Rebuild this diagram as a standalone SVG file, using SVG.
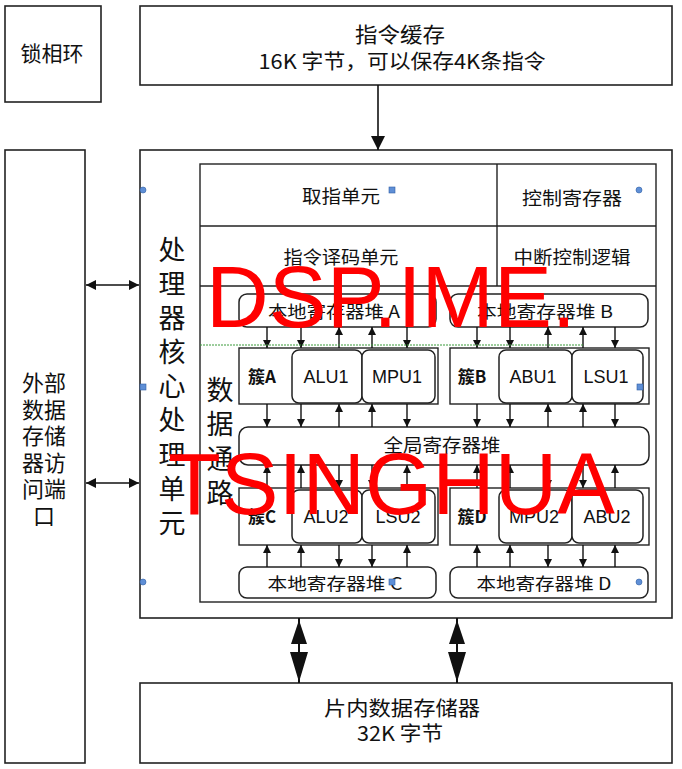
<svg xmlns="http://www.w3.org/2000/svg" width="682" height="769" viewBox="0 0 682 769">
<style>
.box{fill:#fff;stroke:#222;stroke-width:1.6}
.thin{fill:none;stroke:#222;stroke-width:1.4}
.rr{fill:#fff;stroke:#222;stroke-width:1.5}
.cjk{font-family:"Noto Sans CJK SC","Noto Sans",sans-serif;fill:#111;text-anchor:middle}
.lat{font-family:"Liberation Sans",Arial,sans-serif;fill:#111;text-anchor:middle}
.ar{stroke:#111;stroke-width:1.4;fill:none;marker-end:url(#a)}
.wm{font-family:"Liberation Sans",Arial,sans-serif;fill:#ff0000;font-size:87px}
.hc{fill:#5f8fd6;stroke:#2f5fa6;stroke-width:0.6}
</style>
<defs>
<marker id="a" viewBox="0 0 10 10" refX="10" refY="5" markerUnits="userSpaceOnUse" markerWidth="9" markerHeight="8" orient="auto"><path d="M0,0 L10,5 L0,10 z" fill="#111"/></marker>
<marker id="big" viewBox="0 0 10 10" refX="10" refY="5" markerUnits="userSpaceOnUse" markerWidth="16" markerHeight="14" orient="auto"><path d="M0,0 L10,5 L0,10 z" fill="#111"/></marker>
<marker id="mid" viewBox="0 0 10 10" refX="10" refY="5" markerUnits="userSpaceOnUse" markerWidth="12" markerHeight="10" orient="auto-start-reverse"><path d="M0,0 L10,5 L0,10 z" fill="#111"/></marker>
</defs>

<g id="pll">
<rect class="box" x="5" y="6" width="96" height="96"/>
<text class="cjk" x="52" y="61" font-size="21">锁相环</text>
</g>

<g id="icache">
<rect class="box" x="140" y="6" width="532" height="79"/>
<text class="cjk" x="400" y="42" font-size="21" textLength="90" lengthAdjust="spacingAndGlyphs">指令缓存</text>
<text class="cjk" x="402" y="69" font-size="20" textLength="287" lengthAdjust="spacingAndGlyphs">16K 字节，可以保存4K条指令</text>
</g>

<g id="extport">
<rect class="box" x="5" y="150" width="80" height="613"/>
<g class="cjk" font-size="22">
<text x="44" y="391">外部</text>
<text x="44" y="418">数据</text>
<text x="44" y="444">存储</text>
<text x="44" y="471">器访</text>
<text x="44" y="497">问端</text>
<text x="44" y="524">口</text>
</g>
</g>

<g id="core">
<rect class="box" x="140" y="150" width="532" height="468"/>
<g class="cjk" font-size="27">
<text x="172" y="260">处</text>
<text x="172" y="294">理</text>
<text x="172" y="328">器</text>
<text x="172" y="362">核</text>
<text x="172" y="396">心</text>
<text x="172" y="430">处</text>
<text x="172" y="465">理</text>
<text x="172" y="499">单</text>
<text x="172" y="533">元</text>
</g>
</g>

<g id="inner">
<rect class="thin" x="200" y="164" width="456" height="438"/>
<line class="thin" x1="200" y1="226" x2="656" y2="226"/>
<line class="thin" x1="200" y1="286" x2="656" y2="286"/>
<line class="thin" x1="497" y1="164" x2="497" y2="286"/>
<g class="cjk" font-size="18">
<text x="341" y="203" textLength="78" lengthAdjust="spacingAndGlyphs">取指单元</text>
<text x="572" y="205" textLength="100" lengthAdjust="spacingAndGlyphs">控制寄存器</text>
<text x="341" y="264" textLength="115" lengthAdjust="spacingAndGlyphs">指令译码单元</text>
<text x="572" y="264" textLength="117" lengthAdjust="spacingAndGlyphs">中断控制逻辑</text>
</g>
<g class="cjk" font-size="27">
<text x="220" y="400">数</text>
<text x="220" y="434">据</text>
<text x="220" y="469">通</text>
<text x="220" y="503">路</text>
</g>
</g>

<g id="lrfA">
<rect class="rr" x="239" y="294" width="197" height="33" rx="8"/>
<text class="cjk" x="334" y="318" font-size="17" textLength="132" lengthAdjust="spacingAndGlyphs">本地寄存器堆 A</text>
</g>
<g id="lrfB">
<rect class="rr" x="450" y="294" width="198" height="33" rx="8"/>
<text class="cjk" x="545" y="318" font-size="17" textLength="136" lengthAdjust="spacingAndGlyphs">本地寄存器堆 B</text>
</g>

<g id="clusterA">
<rect class="thin" x="239" y="348" width="199" height="56"/>
<text class="cjk" x="262" y="383" font-size="17" font-weight="bold">簇A</text>
<rect class="rr" x="292" y="350" width="70" height="53" rx="7"/>
<text class="lat" x="326" y="383" font-size="18">ALU1</text>
<rect class="rr" x="362" y="350" width="73" height="53" rx="7"/>
<text class="lat" x="397" y="383" font-size="18">MPU1</text>
</g>
<g id="clusterB">
<rect class="thin" x="450" y="348" width="199" height="56"/>
<text class="cjk" x="472" y="383" font-size="17" font-weight="bold">簇B</text>
<rect class="rr" x="499" y="350" width="73" height="53" rx="7"/>
<text class="lat" x="533" y="383" font-size="18">ABU1</text>
<rect class="rr" x="572" y="350" width="71" height="53" rx="7"/>
<text class="lat" x="606" y="383" font-size="18">LSU1</text>
</g>

<g id="grf">
<rect class="rr" x="239" y="427" width="410" height="38" rx="9"/>
<text class="cjk" x="442" y="452" font-size="18" textLength="117" lengthAdjust="spacingAndGlyphs">全局寄存器堆</text>
</g>

<g id="clusterC">
<rect class="thin" x="239" y="488" width="199" height="57"/>
<text class="cjk" x="262" y="523" font-size="17" font-weight="bold">簇C</text>
<rect class="rr" x="292" y="490" width="70" height="53" rx="7"/>
<text class="lat" x="326" y="523" font-size="18">ALU2</text>
<rect class="rr" x="362" y="490" width="73" height="53" rx="7"/>
<text class="lat" x="398" y="523" font-size="18">LSU2</text>
</g>
<g id="clusterD">
<rect class="thin" x="450" y="488" width="199" height="57"/>
<text class="cjk" x="472" y="523" font-size="17" font-weight="bold">簇D</text>
<rect class="rr" x="499" y="490" width="73" height="53" rx="7"/>
<text class="lat" x="534" y="523" font-size="18">MPU2</text>
<rect class="rr" x="572" y="490" width="71" height="53" rx="7"/>
<text class="lat" x="607" y="523" font-size="18">ABU2</text>
</g>

<g id="lrfC">
<rect class="rr" x="239" y="567" width="197" height="31" rx="8"/>
<text class="cjk" x="335" y="590" font-size="17" textLength="135" lengthAdjust="spacingAndGlyphs">本地寄存器堆 C</text>
</g>
<g id="lrfD">
<rect class="rr" x="450" y="567" width="198" height="31" rx="8"/>
<text class="cjk" x="544" y="590" font-size="17" textLength="135" lengthAdjust="spacingAndGlyphs">本地寄存器堆 D</text>
</g>

<g id="dmem">
<rect class="box" x="140" y="683" width="532" height="80"/>
<text class="cjk" x="402" y="716" font-size="20" textLength="156" lengthAdjust="spacingAndGlyphs">片内数据存储器</text>
<text class="cjk" x="400" y="741" font-size="20" textLength="86" lengthAdjust="spacingAndGlyphs">32K 字节</text>
</g>

<g id="connectors">
<line x1="378" y1="85" x2="378" y2="150" stroke="#111" stroke-width="1.6" marker-end="url(#big)"/>
<line x1="86" y1="285" x2="139" y2="285" stroke="#111" stroke-width="1.6" marker-start="url(#mid)" marker-end="url(#mid)"/>
<line x1="86" y1="483" x2="139" y2="483" stroke="#111" stroke-width="1.6" marker-start="url(#mid)" marker-end="url(#mid)"/>
<!-- local A/B to clusters -->
<line class="ar" x1="267" y1="327" x2="267" y2="348"/>
<line class="ar" x1="301" y1="327" x2="301" y2="348"/>
<line class="ar" x1="339" y1="348" x2="339" y2="327"/>
<line class="ar" x1="372" y1="348" x2="372" y2="327"/>
<line class="ar" x1="407" y1="327" x2="407" y2="348"/>
<line class="ar" x1="477" y1="327" x2="477" y2="348"/>
<line class="ar" x1="510" y1="327" x2="510" y2="348"/>
<line class="ar" x1="548" y1="348" x2="548" y2="327"/>
<line class="ar" x1="583" y1="348" x2="583" y2="327"/>
<line class="ar" x1="615" y1="327" x2="615" y2="348"/>
<!-- clusters A/B to global -->
<line class="ar" x1="267" y1="404" x2="267" y2="427"/>
<line class="ar" x1="301" y1="404" x2="301" y2="427"/>
<line class="ar" x1="339" y1="427" x2="339" y2="404"/>
<line class="ar" x1="372" y1="427" x2="372" y2="404"/>
<line class="ar" x1="407" y1="404" x2="407" y2="427"/>
<line class="ar" x1="477" y1="404" x2="477" y2="427"/>
<line class="ar" x1="510" y1="404" x2="510" y2="427"/>
<line class="ar" x1="548" y1="427" x2="548" y2="404"/>
<line class="ar" x1="583" y1="427" x2="583" y2="404"/>
<line class="ar" x1="615" y1="404" x2="615" y2="427"/>
<!-- global to clusters C/D -->
<line class="ar" x1="267" y1="488" x2="267" y2="465"/>
<line class="ar" x1="301" y1="488" x2="301" y2="465"/>
<line class="ar" x1="339" y1="465" x2="339" y2="488"/>
<line class="ar" x1="372" y1="465" x2="372" y2="488"/>
<line class="ar" x1="407" y1="488" x2="407" y2="465"/>
<line class="ar" x1="477" y1="488" x2="477" y2="465"/>
<line class="ar" x1="510" y1="488" x2="510" y2="465"/>
<line class="ar" x1="548" y1="465" x2="548" y2="488"/>
<line class="ar" x1="583" y1="465" x2="583" y2="488"/>
<line class="ar" x1="615" y1="488" x2="615" y2="465"/>
<!-- clusters C/D to local C/D -->
<line class="ar" x1="267" y1="567" x2="267" y2="545"/>
<line class="ar" x1="301" y1="567" x2="301" y2="545"/>
<line class="ar" x1="339" y1="545" x2="339" y2="567"/>
<line class="ar" x1="372" y1="545" x2="372" y2="567"/>
<line class="ar" x1="407" y1="567" x2="407" y2="545"/>
<line class="ar" x1="477" y1="567" x2="477" y2="545"/>
<line class="ar" x1="510" y1="567" x2="510" y2="545"/>
<line class="ar" x1="548" y1="545" x2="548" y2="567"/>
<line class="ar" x1="583" y1="545" x2="583" y2="567"/>
<line class="ar" x1="615" y1="567" x2="615" y2="545"/>
<!-- core to data memory -->
<line x1="299" y1="618" x2="299" y2="683" stroke="#111" stroke-width="2"/>
<path d="M299,620 L291,644 L307,644 z M299,682 L290,652 L308,652 z" fill="#111"/>
<line x1="457" y1="618" x2="457" y2="683" stroke="#111" stroke-width="2"/>
<path d="M457,620 L449,644 L465,644 z M457,682 L448,652 L466,652 z" fill="#111"/>
</g>

<line x1="200" y1="345" x2="583" y2="345" stroke="#3a9a3a" stroke-width="1" stroke-dasharray="2,1"/>

<g id="handles">
<circle class="hc" cx="143" cy="190" r="3"/>
<rect class="hc" x="389" y="187" width="6" height="6"/>
<circle class="hc" cx="639" cy="190" r="3"/>
<rect class="hc" x="140" y="384" width="6" height="6"/>
<rect class="hc" x="637" y="384" width="6" height="6"/>
<circle class="hc" cx="143" cy="582" r="3"/>
<rect class="hc" x="389" y="579" width="6" height="6"/>
<circle class="hc" cx="639" cy="582" r="3"/>
</g>

<g id="watermark">
<text class="wm" x="206" y="327" textLength="370" lengthAdjust="spacingAndGlyphs">DSP.IME.</text>
<text class="wm" x="168" y="514" textLength="447" lengthAdjust="spacingAndGlyphs">TSINGHUA</text>
</g>
</svg>
